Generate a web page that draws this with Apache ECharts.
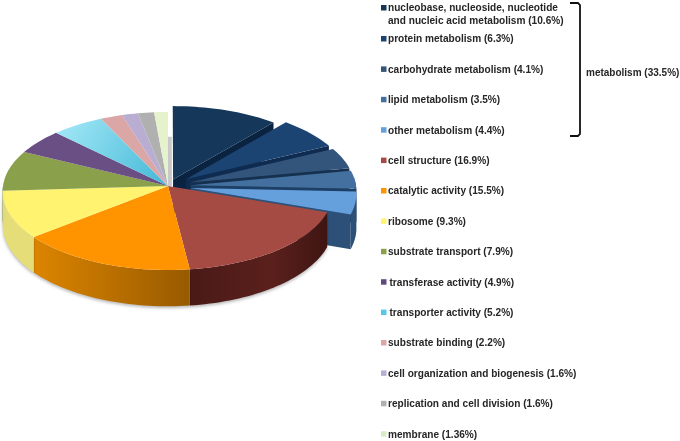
<!DOCTYPE html>
<html><head><meta charset="utf-8">
<style>html,body{margin:0;padding:0;background:#fff}#c{width:680px;height:441px}</style>
<script src="https://cdn.jsdelivr.net/npm/echarts@6/dist/echarts.min.js"></script>
</head><body><div id="c"></div>
<script>
const categories=["nucleobase, nucleoside, nucleotide\nand nucleic acid metabolism","protein metabolism","carbohydrate metabolism","lipid metabolism","other metabolism","cell structure","catalytic activity","ribosome","substrate transport","transferase activity","transporter activity","substrate binding","cell organization and biogenesis","replication and cell division","membrane"];
const percents=[10.6,6.3,4.1,3.5,4.4,16.9,15.5,9.3,7.9,4.9,5.2,2.2,1.6,1.6,1.36];
const percentLabels=["10.6","6.3","4.1","3.5","4.4","16.9","15.5","9.3","7.9","4.9","5.2","2.2","1.6","1.6","1.36"];
const metabolismLabel="metabolism (33.5%)";
const metabolismCount=5;

const topColors=["#14375a","#1c4473","#33557b","#44709f","#659fdc","#a54b43","#ff9400","#fff36f","#8aa04a","#6a4f85","#7fd9ef","#dba6a6","#b9aed2","#b0b0b0","#e6f2cc"];
const legendColors=["#14375a","#1c4473","#33557b","#44709f","#659fdc","#a54b43","#ff9400","#fff36f","#8aa04a","#5f4a80","#55c8e4","#dba6a6","#b9aed2","#b0b0b0","#d8ecc4"];
const sideColors=["#0a2340","#0f2c50","#16304f","#1d3f66","#2d5078","#521d19","#c87800","#e4dd78","#6c7d39","#4e3a63","#3aa","#b08080","#8f86a8","#888","#b8c2a0"];
const explodeBy=[0.09,0.14,0.14,0.14,0.14];

const W=680,H=441,cx=168,cy=186,rx=165,R=78.7,k=0.063,depth=34;
const total=percents.reduce((a,b)=>a+b,0);
const startAngles=[];percents.reduce((acc,v,i)=>{startAngles[i]=acc;return acc+v/total*Math.PI*2;},0);

function project(u,v,z){const s=1/(1+k*v);return [cx+rx*u*s,cy-R*v*s+z*depth*s];}
function rimPoints(a0,a1,ou,ov,z,step){
  const pts=[],n=Math.max(2,Math.ceil((a1-a0)/(step||0.03)));
  for(let j=0;j<=n;j++){const a=a0+(a1-a0)*j/n;pts.push(project(Math.sin(a)+ou,Math.cos(a)+ov,z));}
  return pts;
}
function sideFill(i,base){
  if(i===6) return {type:'linear',x:0,y:0,x2:1,y2:0,colorStops:[{offset:0,color:'#dc8500'},{offset:1,color:'#985a00'}]};
  if(i===5) return {type:'linear',x:0,y:0,x2:1,y2:0,colorStops:[{offset:0,color:'#4a1a17'},{offset:0.6,color:'#5a201c'},{offset:1,color:'#3f1512'}]};
  return base;
}
function topFill(i,c){
  if(i===10) return {type:'linear',x:0,y:0,x2:1,y2:1,colorStops:[{offset:0,color:'#a6e9f8'},{offset:1,color:'#42b8d6'}]};
  return c;
}
function renderSlice(params,api){
  const i=api.value(0),sweep=api.value(1)/total*Math.PI*2,a0=startAngles[i],a1=a0+sweep;
  const ex=i<metabolismCount?explodeBy[i]:0,mid=(a0+a1)/2;
  const ou=Math.sin(mid)*ex,ov=Math.cos(mid)*ex;
  const children=[];
  const wallStart=Math.max(a0,Math.PI*0.47),wallEnd=Math.min(a1,Math.PI*1.5);
  const shadow=i>=metabolismCount?{shadowBlur:3,shadowColor:'rgba(0,0,0,0.25)',shadowOffsetY:2}:{};
  if(i<metabolismCount){
    const apexT=project(ou,ov,0),apexB=project(ou,ov,1);
    const rT=project(Math.sin(a1)+ou,Math.cos(a1)+ov,0),rB=project(Math.sin(a1)+ou,Math.cos(a1)+ov,1);
    children.push({type:'polygon',shape:{points:[apexT,rT,rB,apexB]},style:{fill:sideColors[i]}});
  }
  if(wallEnd>wallStart){
    const upper=rimPoints(wallStart,wallEnd,ou,ov,0),lower=rimPoints(wallStart,wallEnd,ou,ov,1).reverse();
    children.push({type:'polygon',shape:{points:upper.concat(lower)},style:Object.assign({fill:sideFill(i,sideColors[i])},shadow)});
  }
  if(i===percents.length-1){
    const a=project(0,0,0),b=project(0,0.65,0),c=project(0.024,0.65,0),d=project(0.024,0,0);
    children.push({type:'polygon',shape:{points:[a,b,c,d]},style:{fill:'#c9c9c9'}});
  }
  const top=[project(ou,ov,0)].concat(rimPoints(a0,a1,ou,ov,0));
  children.push({type:'polygon',shape:{points:top},style:{fill:topFill(i,topColors[i])}});
  return {type:'group',children};
}
function rowY(i){return i===0?14.8:39.7+30.4*(i-1);}
const indented={9:1.5,10:1.5};
function renderLegend(params,api){
  const i=api.value(0),y=rowY(i),my=i===0?8:y-0.7;
  return {type:'group',children:[
    {type:'rect',shape:{x:381,y:my-3,width:5.5,height:5.5},style:{fill:legendColors[i]}},
    {type:'text',style:{x:388+(indented[i]||0),y:y,text:categories[i]+" ("+percentLabels[i]+"%)",
      font:'bold 10.1px "Liberation Sans", Arial, sans-serif',fill:'#262626',textVerticalAlign:'middle',lineHeight:12.5}}
  ]};
}
const sliceData=percents.map((v,i)=>[i,v]);
const chart=echarts.init(document.getElementById('c'),null,{renderer:'canvas',width:W,height:H});
chart.setOption({
  animation:false,backgroundColor:'#fff',
  series:[
    {type:'custom',name:'slices',coordinateSystem:'none',renderItem:renderSlice,data:sliceData,silent:true},
    {type:'custom',name:'legend',coordinateSystem:'none',renderItem:renderLegend,data:sliceData,silent:true}
  ],
  graphic:[
    {type:'polyline',shape:{points:[[570,3],[578,3],[580,5],[580,134],[578,136],[570,136]]},style:{stroke:'#111',lineWidth:1.8,fill:null}},
    {type:'text',x:586,y:73.5,style:{text:metabolismLabel,font:'bold 10px "Liberation Sans", Arial, sans-serif',fill:'#262626',textVerticalAlign:'middle'}}
  ]
});
</script></body></html>
